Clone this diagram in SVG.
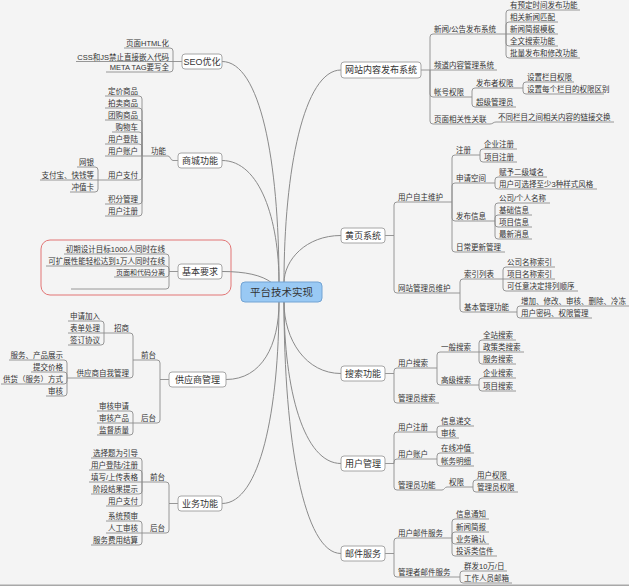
<svg xmlns="http://www.w3.org/2000/svg" width="629" height="586" viewBox="0 0 629 586">
<style>
.ln{fill:none;stroke:#8c8c8c;stroke-width:0.9}
.mc{fill:none;stroke:#8a8a8a;stroke-width:1}
.t{font-family:"Liberation Sans","Noto Sans CJK SC",sans-serif;font-size:7.5px;fill:#333}
.e{text-anchor:end}
.s7{font-size:7px}
.b{fill:#fff;stroke:#9c9c9c;stroke-width:0.9}
.bt{font-family:"Liberation Sans","Noto Sans CJK SC",sans-serif;font-size:9px;fill:#333;text-anchor:middle}
</style>
<rect x="0" y="0" width="629" height="586" fill="#f4f4f4"/>
<rect x="0" y="584.5" width="629" height="1.5" fill="#a8a8a8"/>
<rect x="41" y="240" width="190" height="55" rx="9" fill="none" stroke="#e27575" stroke-width="1"/>
<g id="connectors">
<path class="mc" d="M222 61.5C260 61.5 279 160 279 283M222 160.5C260 160.5 279 220 279 283M222 271.5C245 271.5 262 275 272 283M226 379.5C262 379.5 279 345 279 302M222 503.5C260 503.5 279 410 279 302M341 70C304 70 284 170 284 283M341 235.5C306 235.5 284 260 284 283M341 373.5C306 373.5 284 340 284 302M341 463.5C304 463.5 284 390 284 302M341 553.5C304 553.5 284 440 284 302"/>
<path class="ln" d="M421 70H430M430 70V37Q430 34 433 34H506M430 70H497M430 70V94Q430 97 433 97H472M430 70V121Q430 124 433 124H490C493 124 493 122 496 122H614
M506 34V13Q506 10 509 10H580M506 34V25Q506 22 509 22H558M506 34H558M506 34V43Q506 46 509 46H558M506 34V55Q506 58 509 58H580
M472 97V91Q472 88 475 88H523M472 97V104Q472 107 475 107H516M523 88V85Q523 82 526 82H574M523 88V91Q523 94 526 94H604"/>
<path class="ln" d="M385 235.5H394M394 235.5V205Q394 202 397 202H452M394 235.5V290Q394 293 397 293H460
M452 202V158Q452 155 455 155H480M452 202V186Q452 183 455 183H495M452 202V218Q452 221 455 221H495M452 202V249Q452 252 455 252H505
M480 155V152Q480 149 483 149H517M480 155V159Q480 162 483 162H517
M495 183V180Q495 177 498 177H547M495 183V186Q495 189 498 189H597
M495 221V206Q495 203 498 203H550M495 221V218Q495 215 498 215H532M495 221V224Q495 227 498 227H532M495 221V236Q495 239 498 239H532
M460 293V282Q460 279 463 279H503M460 293V309Q460 312 463 312H517
M503 279V270Q503 267 506 267H555M503 279H555M503 279V288Q503 291 506 291H578
M517 312V309Q517 306 520 306H629M517 312V315Q517 318 520 318H592"/>
<path class="ln" d="M385 373.5H394M394 373.5V371Q394 368 397 368H437M394 373.5V400Q394 403 397 403H439
M437 368V355Q437 352 440 352H479M437 368V382Q437 385 440 385H479
M479 352V343Q479 340 482 340H516M479 352H524M479 352V361Q479 364 482 364H516
M479 385V381Q479 378 482 378H516M479 385V388Q479 391 482 391H516"/>
<path class="ln" d="M385 463.5H394M394 463.5V435Q394 432 397 432H437M394 463.5V462Q394 459 397 459H437M394 463.5V487Q394 490 397 490H442C444.5 490 444.5 487 447 487H473
M437 432V429Q437 426 440 426H474M437 432V435Q437 438 440 438H459
M437 459V456Q437 453 440 453H474M437 459V463Q437 466 440 466H474
M473 487V483Q473 480 476 480H510M473 487V489Q473 492 476 492H518"/>
<path class="ln" d="M385 553.5H394M394 553.5V541Q394 538 397 538H452M394 553.5V574Q394 577 397 577H460
M452 538V522Q452 519 455 519H489M452 538V535Q452 532 455 532H489M452 538V541Q452 544 455 544H489M452 538V553Q452 556 455 556H497
M460 577V574Q460 571 463 571H507M460 577V580Q460 583 463 583H512"/>
<path class="ln" d="M182 61.5H173M173 61.5V51Q173 48 170 48H124M173 61.5H76M173 61.5V69Q173 72 170 72H106"/>
<path class="ln" d="M178 160.5H173C170.5 160.5 170.5 156 168 156H142
M142 156V99Q142 96 139 96H105M142 156V111Q142 108 139 108H105M142 156V123Q142 120 139 120H105M142 156V135Q142 132 139 132H112M142 156V147Q142 144 139 144H105M142 156H105M142 156V177Q142 180 139 180H98M142 156V201Q142 204 139 204H105M142 156V213Q142 216 139 216H105
M98 180V170Q98 167 95 167H77M98 180H40M98 180V189Q98 192 95 192H70"/>
<path class="ln" d="M178 271.5H169M169 271.5V257Q169 254 166 254H64M169 271.5V269Q169 266 166 266H46M169 271.5V274Q169 277 166 277H114M169 271.5V286Q169 289 166 289H71"/>
<path class="ln" d="M169 379.5H160M160 379.5V363Q160 360 157 360H133M160 379.5V420Q160 423 157 423H133
M133 360V336Q133 333 130 333H104M133 360V375Q133 378 130 378H67
M104 333V324Q104 321 101 321H68M104 333H68M104 333V342Q104 345 101 345H68
M67 378V363Q67 360 64 360H9M67 378V375Q67 372 64 372H31M67 378V381Q67 384 64 384H1M67 378V393Q67 396 64 396H46
M133 423V414Q133 411 130 411H97M133 423H97M133 423V432Q133 435 130 435H97"/>
<path class="ln" d="M178 503.5H169M169 503.5V485Q169 482 166 482H142M169 503.5V530Q169 533 166 533H142
M142 482V461Q142 458 139 458H91M142 482V473Q142 470 139 470H89M142 482H89M142 482V491Q142 494 139 494H91M142 482V503Q142 506 139 506H106
M142 533V524Q142 521 139 521H106M142 533H106M142 533V542Q142 545 139 545H91"/>
</g>
<g id="center"><rect x="241" y="282" width="81" height="20" rx="4" fill="#99c9f4" stroke="#72a3d3" stroke-width="1"/><text class="bt" x="281.5" y="295.8" style="font-size:10.5px">平台技术实现</text></g>

<g id="n-web"><rect class="b" x="341" y="62" width="80" height="16" rx="3"/><text class="bt" x="381" y="73.2">网站内容发布系统</text></g>
<g id="n-web-news"><text class="t" x="434" y="32">新闻/公告发布系统</text></g>
<g id="n-web-news-1"><text class="t" x="510" y="8">有预定时间发布功能</text></g>
<g id="n-web-news-2"><text class="t" x="510" y="20">相关新闻匹配</text></g>
<g id="n-web-news-3"><text class="t" x="510" y="32">新闻简报模板</text></g>
<g id="n-web-news-4"><text class="t" x="510" y="44">全文搜索功能</text></g>
<g id="n-web-news-5"><text class="t" x="510" y="56">批量发布和修改功能</text></g>
<g id="n-web-channel"><text class="t" x="434" y="68">频道内容管理系统</text></g>
<g id="n-web-acct"><text class="t" x="434" y="95">帐号权限</text></g>
<g id="n-web-acct-pub"><text class="t" x="476" y="86">发布者权限</text></g>
<g id="n-web-acct-pub-1"><text class="t" x="527" y="80">设置栏目权限</text></g>
<g id="n-web-acct-pub-2"><text class="t" x="527" y="92">设置每个栏目的权限区别</text></g>
<g id="n-web-acct-admin"><text class="t" x="476" y="105">超级管理员</text></g>
<g id="n-web-rel"><text class="t" x="434" y="122">页面相关性关联</text></g>
<g id="n-web-rel-1"><text class="t" x="498" y="120">不同栏目之间相关内容的链接交换</text></g>

<g id="n-yp"><rect class="b" x="341" y="228" width="44" height="15" rx="3"/><text class="bt" x="363" y="238.7">黄页系统</text></g>
<g id="n-yp-user"><text class="t" x="398" y="200">用户自主维护</text></g>
<g id="n-yp-reg"><text class="t" x="456" y="153">注册</text></g>
<g id="n-yp-reg-1"><text class="t" x="484" y="147">企业注册</text></g>
<g id="n-yp-reg-2"><text class="t" x="484" y="160">项目注册</text></g>
<g id="n-yp-space"><text class="t" x="456" y="181">申请空间</text></g>
<g id="n-yp-space-1"><text class="t" x="499" y="175">赋予二级域名</text></g>
<g id="n-yp-space-2"><text class="t" x="499" y="187">用户可选择至少3种样式风格</text></g>
<g id="n-yp-info"><text class="t" x="456" y="219">发布信息</text></g>
<g id="n-yp-info-1"><text class="t" x="499" y="201">公司/个人名称</text></g>
<g id="n-yp-info-2"><text class="t" x="499" y="213">基础信息</text></g>
<g id="n-yp-info-3"><text class="t" x="499" y="225">项目信息</text></g>
<g id="n-yp-info-4"><text class="t" x="499" y="237">最新消息</text></g>
<g id="n-yp-daily"><text class="t" x="456" y="250">日常更新管理</text></g>
<g id="n-yp-admin"><text class="t" x="398" y="291">网站管理员维护</text></g>
<g id="n-yp-idx"><text class="t" x="464" y="277">索引列表</text></g>
<g id="n-yp-idx-1"><text class="t" x="507" y="265">公司名称索引</text></g>
<g id="n-yp-idx-2"><text class="t" x="507" y="277">项目名称索引</text></g>
<g id="n-yp-idx-3"><text class="t" x="507" y="289">可任意决定排列顺序</text></g>
<g id="n-yp-basic"><text class="t" x="464" y="310">基本管理功能</text></g>
<g id="n-yp-basic-1"><text class="t" x="521" y="304">增加、修改、审核、删除、冷冻</text></g>
<g id="n-yp-basic-2"><text class="t" x="521" y="316">用户密码、权限管理</text></g>

<g id="n-search"><rect class="b" x="341" y="366" width="44" height="15" rx="3"/><text class="bt" x="363" y="376.7">搜索功能</text></g>
<g id="n-search-user"><text class="t" x="398" y="366">用户搜索</text></g>
<g id="n-search-gen"><text class="t" x="441" y="350">一般搜索</text></g>
<g id="n-search-gen-1"><text class="t" x="483" y="338">全站搜索</text></g>
<g id="n-search-gen-2"><text class="t" x="483" y="350">政策类搜索</text></g>
<g id="n-search-gen-3"><text class="t" x="483" y="362">服务搜索</text></g>
<g id="n-search-adv"><text class="t" x="441" y="383">高级搜索</text></g>
<g id="n-search-adv-1"><text class="t" x="483" y="376">企业搜索</text></g>
<g id="n-search-adv-2"><text class="t" x="483" y="389">项目搜索</text></g>
<g id="n-search-admin"><text class="t" x="398" y="401">管理员搜索</text></g>

<g id="n-um"><rect class="b" x="341" y="456" width="44" height="15" rx="3"/><text class="bt" x="363" y="466.7">用户管理</text></g>
<g id="n-um-reg"><text class="t" x="398" y="430">用户注册</text></g>
<g id="n-um-reg-1"><text class="t" x="441" y="424">信息递交</text></g>
<g id="n-um-reg-2"><text class="t" x="441" y="436">审核</text></g>
<g id="n-um-acct"><text class="t" x="398" y="457">用户账户</text></g>
<g id="n-um-acct-1"><text class="t" x="441" y="451">在线冲值</text></g>
<g id="n-um-acct-2"><text class="t" x="441" y="464">帐务明细</text></g>
<g id="n-um-admin"><text class="t" x="398" y="488">管理员功能</text></g>
<g id="n-um-perm"><text class="t" x="449" y="485">权限</text></g>
<g id="n-um-perm-1"><text class="t" x="477" y="478">用户权限</text></g>
<g id="n-um-perm-2"><text class="t" x="477" y="490">管理员权限</text></g>

<g id="n-mail"><rect class="b" x="341" y="546" width="44" height="15" rx="3"/><text class="bt" x="363" y="556.7">邮件服务</text></g>
<g id="n-mail-user"><text class="t" x="398" y="536">用户邮件服务</text></g>
<g id="n-mail-user-1"><text class="t" x="456" y="517">信息通知</text></g>
<g id="n-mail-user-2"><text class="t" x="456" y="530">新闻简报</text></g>
<g id="n-mail-user-3"><text class="t" x="456" y="542">业务确认</text></g>
<g id="n-mail-user-4"><text class="t" x="456" y="554">投诉类信件</text></g>
<g id="n-mail-admin"><text class="t" x="398" y="575">管理者邮件服务</text></g>
<g id="n-mail-admin-1"><text class="t" x="464" y="569">群发10万/日</text></g>
<g id="n-mail-admin-2"><text class="t" x="464" y="581">工作人员邮箱</text></g>

<g id="n-seo"><rect class="b" x="182" y="54" width="40" height="15" rx="3"/><text class="bt" x="202" y="64.7">SEO优化</text></g>
<g id="n-seo-1"><text class="t e" x="169" y="46">页面HTML化</text></g>
<g id="n-seo-2"><text class="t e" x="169" y="59.5">CSS和JS禁止直接嵌入代码</text></g>
<g id="n-seo-3"><text class="t e" x="169" y="70">META TAG要写全</text></g>

<g id="n-mall"><rect class="b" x="178" y="153" width="44" height="15" rx="3"/><text class="bt" x="200" y="163.7">商城功能</text></g>
<g id="n-mall-func"><text class="t e" x="166" y="154">功能</text></g>
<g id="n-mall-1"><text class="t e" x="138" y="94">定价商品</text></g>
<g id="n-mall-2"><text class="t e" x="138" y="106">拍卖商品</text></g>
<g id="n-mall-3"><text class="t e" x="138" y="118">团购商品</text></g>
<g id="n-mall-4"><text class="t e" x="138" y="130">购物车</text></g>
<g id="n-mall-5"><text class="t e" x="138" y="142">用户登陆</text></g>
<g id="n-mall-6"><text class="t e" x="138" y="154">用户账户</text></g>
<g id="n-mall-pay"><text class="t e" x="138" y="178">用户支付</text></g>
<g id="n-mall-pay-1"><text class="t e" x="94" y="165">网银</text></g>
<g id="n-mall-pay-2"><text class="t e" x="94" y="178">支付宝、快钱等</text></g>
<g id="n-mall-pay-3"><text class="t e" x="94" y="190">冲值卡</text></g>
<g id="n-mall-8"><text class="t e" x="138" y="202">积分管理</text></g>
<g id="n-mall-9"><text class="t e" x="138" y="214">用户注册</text></g>

<g id="n-req"><rect class="b" x="178" y="264" width="44" height="15" rx="3"/><text class="bt" x="200" y="274.7">基本要求</text></g>
<g id="n-req-1"><text class="t e" x="165" y="252">初期设计目标1000人同时在线</text></g>
<g id="n-req-2"><text class="t e" x="165" y="264">可扩展性能轻松达到1万人同时在线</text></g>
<g id="n-req-3"><text class="t e s7" x="165" y="275">页面和代码分离</text></g>

<g id="n-sup"><rect class="b" x="169" y="372" width="57" height="15" rx="3"/><text class="bt" x="197.5" y="382.7">供应商管理</text></g>
<g id="n-sup-front"><text class="t e" x="156" y="358">前台</text></g>
<g id="n-sup-zs"><text class="t e" x="129" y="331">招商</text></g>
<g id="n-sup-zs-1"><text class="t e" x="100" y="319">申请加入</text></g>
<g id="n-sup-zs-2"><text class="t e" x="100" y="331">表单处理</text></g>
<g id="n-sup-zs-3"><text class="t e" x="100" y="343">签订协议</text></g>
<g id="n-sup-self"><text class="t e" x="129" y="376">供应商自我管理</text></g>
<g id="n-sup-self-1"><text class="t e" x="63" y="358">服务、产品展示</text></g>
<g id="n-sup-self-2"><text class="t e" x="63" y="370">提交价格</text></g>
<g id="n-sup-self-3"><text class="t e" x="63" y="382">供货（服务）方式</text></g>
<g id="n-sup-self-4"><text class="t e" x="63" y="394">审核</text></g>
<g id="n-sup-back"><text class="t e" x="156" y="421">后台</text></g>
<g id="n-sup-back-1"><text class="t e" x="129" y="409">审核申请</text></g>
<g id="n-sup-back-2"><text class="t e" x="129" y="421">审核产品</text></g>
<g id="n-sup-back-3"><text class="t e" x="129" y="433">监督质量</text></g>

<g id="n-biz"><rect class="b" x="178" y="496" width="44" height="15" rx="3"/><text class="bt" x="200" y="506.7">业务功能</text></g>
<g id="n-biz-front"><text class="t e" x="165" y="480">前台</text></g>
<g id="n-biz-front-1"><text class="t e" x="138" y="456">选择题为引导</text></g>
<g id="n-biz-front-2"><text class="t e" x="138" y="468">用户登陆/注册</text></g>
<g id="n-biz-front-3"><text class="t e" x="138" y="480">填写/上传表格</text></g>
<g id="n-biz-front-4"><text class="t e" x="138" y="492">阶段结果提示</text></g>
<g id="n-biz-front-5"><text class="t e" x="138" y="504">用户支付</text></g>
<g id="n-biz-back"><text class="t e" x="165" y="531">后台</text></g>
<g id="n-biz-back-1"><text class="t e" x="138" y="519">系统预审</text></g>
<g id="n-biz-back-2"><text class="t e" x="138" y="531">人工审核</text></g>
<g id="n-biz-back-3"><text class="t e" x="138" y="543">服务费用结算</text></g>
</svg>
